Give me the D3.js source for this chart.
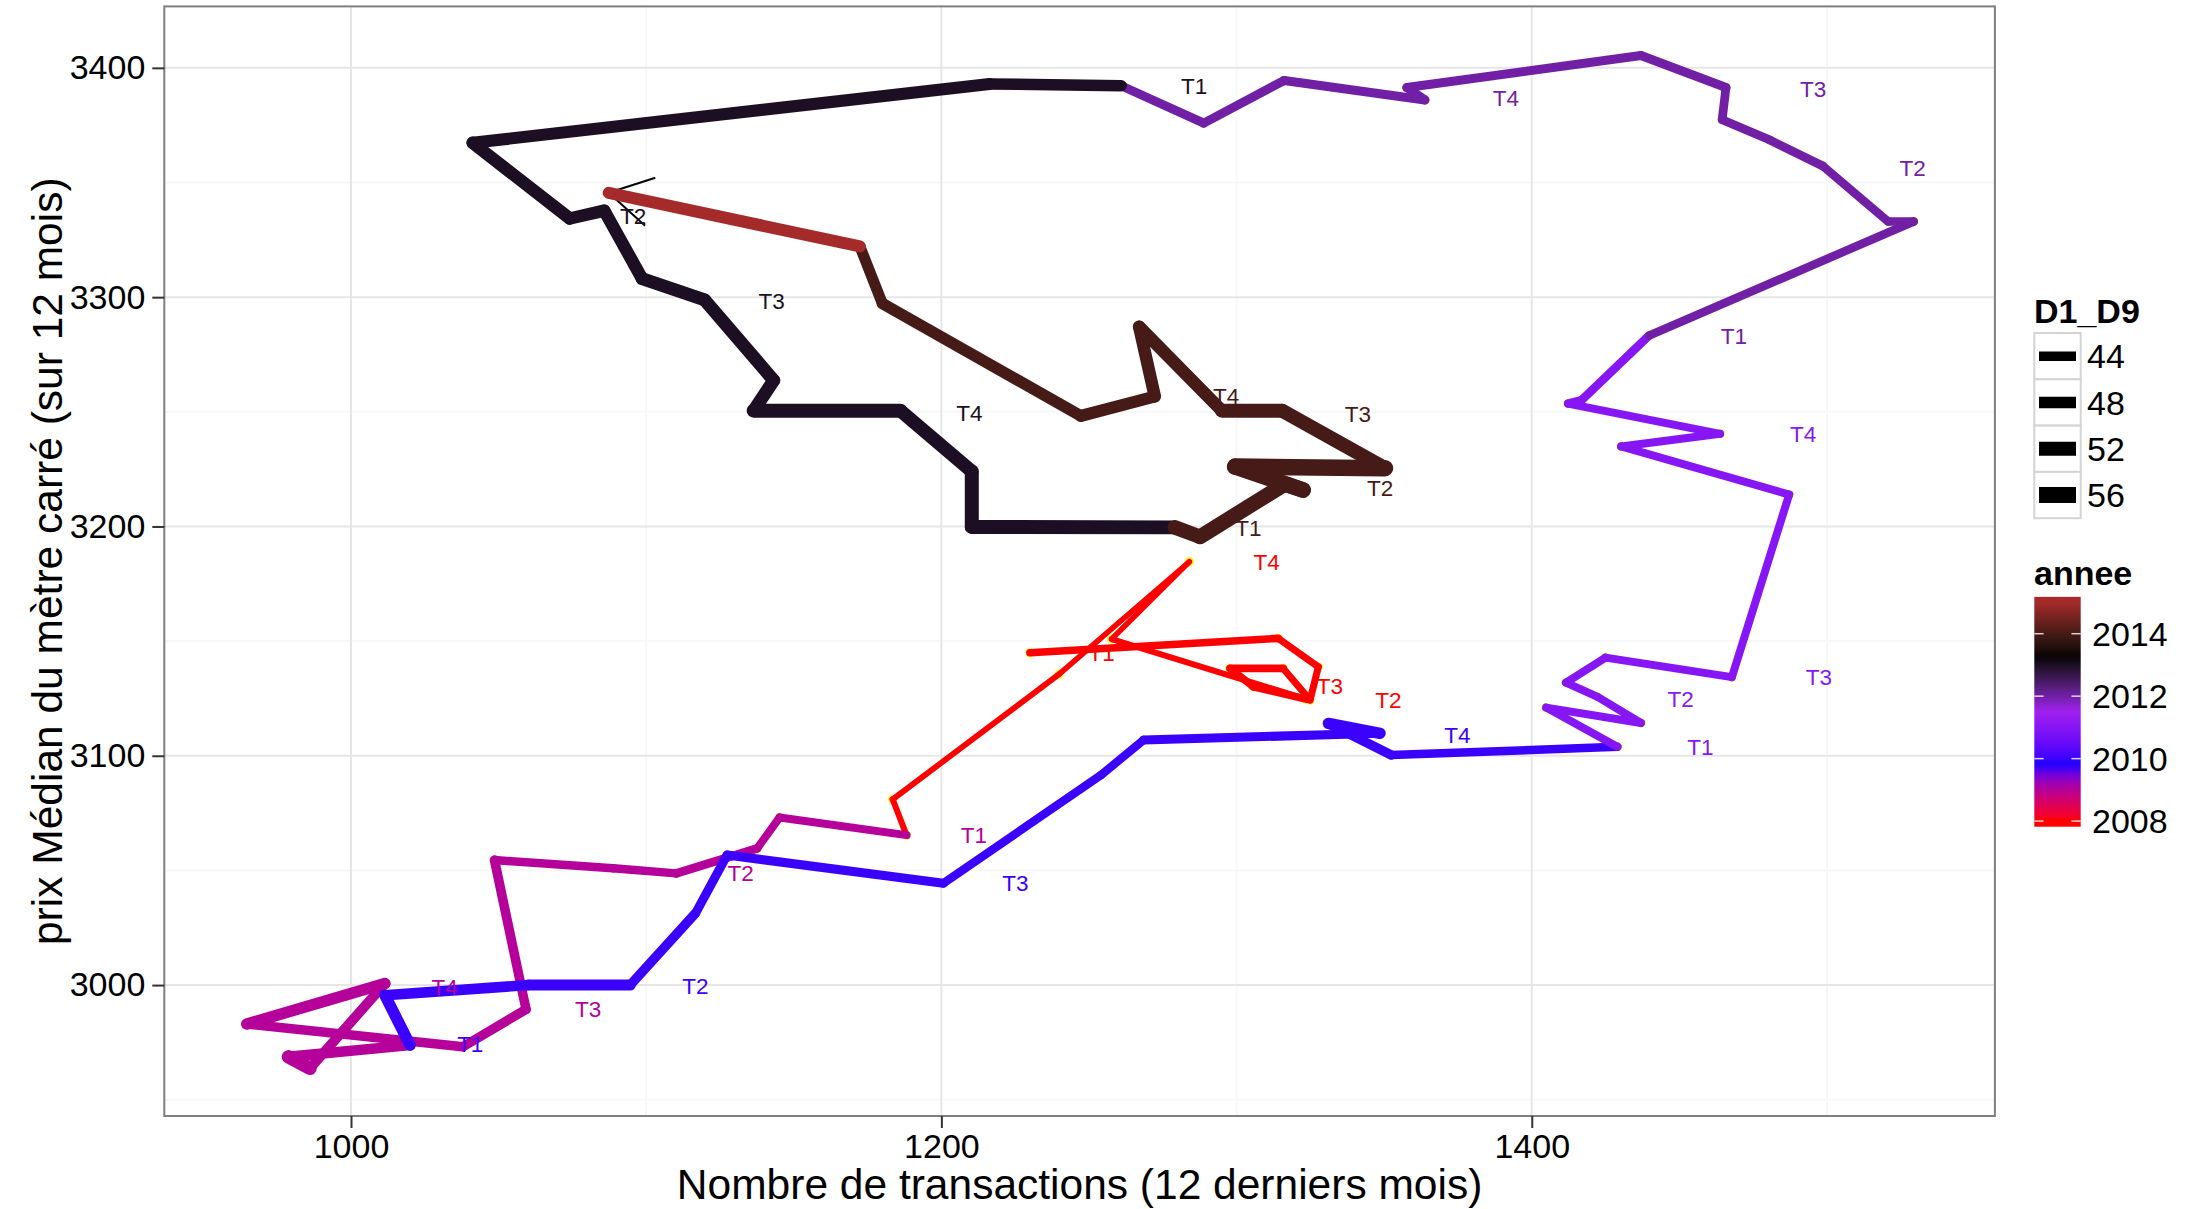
<!DOCTYPE html>
<html><head><meta charset="utf-8">
<script src="https://cdn.jsdelivr.net/npm/d3@7"></script>
<style>body{margin:0;background:#fff}svg{display:block}</style>
</head><body>
<svg id="chart" width="2193" height="1209"></svg>
<script>
// ---------- data (one point per month, chronological) ----------
const annee = [
  2008,2008,2008,2008,2008,2008,2008,2008,2008,2008,2008,2008,
  2009,2009,2009,2009,2009,2009,2009,2009,2009,2009,2009,2009,
  2010,2010,2010,2010,2010,2010,2010,2010,2010,2010,2010,2010,
  2011,2011,2011,2011,2011,2011,2011,2011,2011,2011,2011,2011,
  2012,2012,2012,2012,2012,2012,2012,2012,2012,2012,2012,2012,
  2013,2013,2013,2013,2013,2013,2013,2013,2013,2013,2013,2013,
  2014,2014,2014,2014,2014,2014,2014,2014,2014,2014,2014,2014,
  2015,2015];
const transactions = [
  1230.0,1314.1,1327.7,1324.9,1315.8,1297.8,1305.7,1323.5,1257.7,1284.0,1239.9,1183.5,
  1188.2,1145.2,1137.6,1110.2,1088.8,1048.6,1059.3,1037.9,964.7,1011.5,986.1,978.8,
  1020.0,1011.5,1060.1,1094.6,1116.7,1127.4,1200.7,1254.1,1268.5,1348.6,1331.1,1352.4,
  1429.0,1404.9,1437.0,1422.3,1411.6,1425.0,1467.8,1487.2,1430.3,1463.8,1412.3,1416.9,
  1439.7,1529.4,1520.7,1498.6,1480.7,1464.5,1465.8,1437.0,1357.7,1363.8,1316.1,1288.9,
  1260.9,1216.3,1041.2,1074.1,1085.8,1098.6,1119.8,1143.2,1136.4,1186.1,1210.3,1210.3,
  1279.1,1287.6,1316.4,1322.5,1299.5,1350.3,1315.4,1295.0,1267.0,1272.3,1247.3,1180.0,
  1172.4,1087.3];
const prixMedian = [
  3144.9,3151.2,3138.8,3124.3,3138.1,3138.1,3130.1,3124.7,3150.9,3184.6,3135.6,3081.0,
  3065.4,3073.1,3059.6,3048.7,3050.9,3054.5,2989.4,2973.1,2983.0,3000.7,2963.7,2968.7,
  2973.8,2995.6,3000.0,3000.0,3031.3,3056.7,3044.4,3091.6,3106.9,3109.8,3114.1,3100.3,
  3103.9,3121.0,3114.3,3125.7,3131.9,3142.8,3134.3,3213.9,3234.9,3240.4,3253.6,3255.1,
  3283.2,3333.0,3333.0,3357.2,3368.5,3377.4,3391.4,3405.4,3391.4,3386.0,3394.5,3375.9,
  3392.2,3393.0,3367.3,3334.3,3337.7,3308.1,3298.8,3263.7,3250.5,3250.5,3224.0,3199.8,
  3199.6,3195.5,3218.5,3215.9,3226.1,3225.4,3250.5,3250.5,3287.1,3256.7,3248.2,3297.2,
  3322.1,3345.5];
const d1d9 = [
  40.5,39.5,39.5,39.5,40.5,40.5,40.5,37.7,36.7,36.7,37.3,37.7,
  41.3,41.3,42.2,42.2,42.2,44.1,44.1,44.1,47.7,45.0,51.4,45.9,
  47.7,45.9,46.8,44.1,43.2,43.2,42.2,42.2,43.2,47.7,44.1,42.2,
  41.3,41.3,41.3,41.3,41.3,41.3,41.3,41.3,41.3,41.3,42.2,42.2,
  42.2,42.2,42.2,42.7,42.7,42.7,43.2,43.2,43.2,43.2,43.2,43.2,
  47.7,48.7,49.6,49.6,49.6,50.5,50.5,50.5,52.3,51.4,52.3,52.3,
  53.2,54.2,55.1,56.0,56.9,52.3,52.3,49.6,49.6,48.7,47.7,46.8,
  48.7,48.7];

// quarter labels
const labelAnnee = [2008,2008,2008,2008,2009,2009,2009,2009,2010,2010,2010,2010,
  2011,2011,2011,2011,2012,2012,2012,2012,2013,2013,2013,2013,2014,2014,2014,2014];
const labelTexte = ["T1","T2","T3","T4","T1","T2","T3","T4","T1","T2","T3","T4",
  "T1","T2","T3","T4","T1","T2","T3","T4","T1","T2","T3","T4","T1","T2","T3","T4"];
const labelTransactions = [1254.3,1351.4,1331.6,1310.2, 1211.0,1132.0,1080.3,1031.7,
  1040.4,1116.7,1225.1,1374.8, 1457.1,1450.4,1497.3,1491.9, 1468.5,1529.0,1495.3,1391.2,
  1285.6,1095.6,1142.5,1209.5, 1304.0,1348.6,1341.1,1296.5];
const labelPrix = [3144.7,3124.3,3130.5,3184.6, 3065.4,3048.7,2989.4,2999.4,
  2974.3,2999.7,3044.6,3109.3, 3103.9,3124.9,3134.3,3240.4, 3283.2,3356.4,3391.0,3386.8,
  3392.2,3335.4,3298.5,3249.7, 3199.2,3216.6,3248.9,3257.0];

const xTicks = [1000, 1200, 1400];
const xMinor = [1100, 1300, 1500];
const yTicks = [3000, 3100, 3200, 3300, 3400];
const yMinor = [2950, 3050, 3150, 3250, 3350];
const sizeBreaks = [44, 48, 52, 56];
const colorBreaks = [2008, 2010, 2012, 2014];
const colorStops = [2008, 2009.75, 2011.5, 2013.25, 2015];
const colorValues = ["#FF0000", "#0000FF", "#A020F0", "#000000", "#A52A2A"];

// ---------- layout ----------
const FONT = "'Liberation Sans', Arial, Helvetica, sans-serif";
const P = {left: 164.3, right: 1994.9, top: 6.4, bottom: 1116};
const svg = d3.select("#chart");

const x = d3.scaleLinear().domain([936.75, 1556.9]).range([P.left, P.right]);
const y = d3.scaleLinear().domain([2942.9, 3426.8]).range([P.bottom, P.top]);
const color = d3.scaleLinear().domain(colorStops).range(colorValues)
  .interpolate(d3.interpolateLab).clamp(true);
const width = d3.scaleLinear().domain([36, 58]).range([5.1, 17.1]);

// panel background + grid
svg.append("rect").attr("x", P.left).attr("y", P.top)
  .attr("width", P.right - P.left).attr("height", P.bottom - P.top).attr("fill", "#fff");
const grid = svg.append("g");
xMinor.forEach(v => grid.append("line").attr("x1", x(v)).attr("x2", x(v))
  .attr("y1", P.top).attr("y2", P.bottom).attr("stroke", "#F7F7F7").attr("stroke-width", 2));
yMinor.forEach(v => grid.append("line").attr("y1", y(v)).attr("y2", y(v))
  .attr("x1", P.left).attr("x2", P.right).attr("stroke", "#F7F7F7").attr("stroke-width", 2));
xTicks.forEach(v => grid.append("line").attr("x1", x(v)).attr("x2", x(v))
  .attr("y1", P.top).attr("y2", P.bottom).attr("stroke", "#E6E6E6").attr("stroke-width", 2));
yTicks.forEach(v => grid.append("line").attr("y1", y(v)).attr("y2", y(v))
  .attr("x1", P.left).attr("x2", P.right).attr("stroke", "#E6E6E6").attr("stroke-width", 2));

// data
const pts = transactions.map((t, i) => ({t, p: prixMedian[i], a: annee[i], d: d1d9[i]}));
const plot = svg.append("g");

// yellow points (under the path)
plot.selectAll("circle.pt").data(pts).join("circle")
  .attr("cx", d => x(d.t)).attr("cy", d => y(d.p)).attr("r", 4.6).attr("fill", "#FFFF00");

// arrow head at the end of the path (thin black)
{
  const n = pts.length;
  const tx = x(pts[n-1].t), ty = y(pts[n-1].p);
  const bx = x(pts[n-2].t) - tx, by = y(pts[n-2].p) - ty;
  const L = Math.hypot(bx, by), ux = bx / L, uy = by / L;
  [-Math.PI/6, Math.PI/6].forEach(ang => {
    const c = Math.cos(ang), s = Math.sin(ang);
    const rx = ux * c - uy * s, ry = ux * s + uy * c;
    plot.append("line").attr("x1", tx).attr("y1", ty)
      .attr("x2", tx + rx * 49).attr("y2", ty + ry * 49)
      .attr("stroke", "#000").attr("stroke-width", 2);
  });
}

// path segments: colour/size from the starting point
const segs = d3.pairs(pts);
plot.selectAll("line.seg").data(segs).join("line")
  .attr("x1", d => x(d[0].t)).attr("y1", d => y(d[0].p))
  .attr("x2", d => x(d[1].t)).attr("y2", d => y(d[1].p))
  .attr("stroke", d => color(d[0].a))
  .attr("stroke-width", d => width(d[0].d))
  .attr("stroke-linecap", "round");

// quarter labels
const labs = labelTexte.map((s, i) => ({s, a: labelAnnee[i], t: labelTransactions[i], p: labelPrix[i]}));
plot.selectAll("text.lab").data(labs).join("text")
  .attr("x", d => x(d.t)).attr("y", d => y(d.p)).attr("dy", "0.36em")
  .attr("text-anchor", "middle").attr("font-family", FONT).attr("font-size", 22.5)
  .attr("fill", d => color(d.a)).text(d => d.s);

// panel border
svg.append("rect").attr("x", P.left).attr("y", P.top)
  .attr("width", P.right - P.left).attr("height", P.bottom - P.top)
  .attr("fill", "none").attr("stroke", "#7F7F7F").attr("stroke-width", 2);

// axes
const xAxis = svg.append("g").attr("transform", `translate(0,${P.bottom})`)
  .call(d3.axisBottom(x).tickValues(xTicks).tickSize(12).tickPadding(6).tickFormat(d3.format("d")));
const yAxis = svg.append("g").attr("transform", `translate(${P.left},0)`)
  .call(d3.axisLeft(y).tickValues(yTicks).tickSize(12).tickPadding(7).tickFormat(d3.format("d")));
[xAxis, yAxis].forEach(g => {
  g.select(".domain").remove();
  g.selectAll(".tick line").attr("stroke", "#333").attr("stroke-width", 2);
  g.selectAll(".tick text").attr("font-family", FONT).attr("font-size", 34).attr("fill", "#000");
});

svg.append("text").attr("x", (P.left + P.right) / 2).attr("y", 1199)
  .attr("text-anchor", "middle").attr("font-family", FONT).attr("font-size", 42.5)
  .text("Nombre de transactions (12 derniers mois)");
svg.append("text").attr("transform", `translate(62,${(P.top + P.bottom) / 2}) rotate(-90)`)
  .attr("text-anchor", "middle").attr("font-family", FONT).attr("font-size", 42.5)
  .text("prix Médian du mètre carré (sur 12 mois)");

// ---------- legend: D1_D9 ----------
const lg = svg.append("g");
lg.append("text").attr("x", 2034).attr("y", 323).attr("font-family", FONT)
  .attr("font-size", 34).attr("font-weight", "bold").text("D1_D9");
sizeBreaks.forEach((v, i) => {
  const top = 333 + i * 46.3;
  lg.append("rect").attr("x", 2034.3).attr("y", top).attr("width", 46.4).attr("height", 46.3)
    .attr("fill", "#fff").attr("stroke", "#D4D4D4").attr("stroke-width", 2);
  lg.append("line").attr("x1", 2039).attr("x2", 2076)
    .attr("y1", top + 23.15).attr("y2", top + 23.15)
    .attr("stroke", "#000").attr("stroke-width", width(v));
  lg.append("text").attr("x", 2087).attr("y", top + 23.15).attr("dy", "0.36em")
    .attr("font-family", FONT).attr("font-size", 34).text(v);
});

// ---------- legend: annee colourbar ----------
lg.append("text").attr("x", 2034).attr("y", 585).attr("font-family", FONT)
  .attr("font-size", 34).attr("font-weight", "bold").text("annee");
const cb = d3.scaleLinear().domain([2008, 2014]).range([821.1, 633.7]);
const barTop = cb(2015.18), barBot = cb(2007.82);
const defs = svg.append("defs");
const grad = defs.append("linearGradient").attr("id", "cbar")
  .attr("x1", 0).attr("y1", 1).attr("x2", 0).attr("y2", 0);
d3.range(0, 41).forEach(k => {
  const yr = 2007.82 + k * (2015.18 - 2007.82) / 40;
  grad.append("stop").attr("offset", k / 40).attr("stop-color", color(yr));
});
lg.append("rect").attr("x", 2034.3).attr("y", barTop).attr("width", 46.4)
  .attr("height", barBot - barTop).attr("fill", "url(#cbar)");
colorBreaks.forEach(v => {
  lg.append("line").attr("x1", 2034.3).attr("x2", 2043.6).attr("y1", cb(v)).attr("y2", cb(v))
    .attr("stroke", "#fff").attr("stroke-width", 1.5).attr("opacity", 0.8);
  lg.append("line").attr("x1", 2071.4).attr("x2", 2080.7).attr("y1", cb(v)).attr("y2", cb(v))
    .attr("stroke", "#fff").attr("stroke-width", 1.5).attr("opacity", 0.8);
  lg.append("text").attr("x", 2092).attr("y", cb(v)).attr("dy", "0.36em")
    .attr("font-family", FONT).attr("font-size", 34).text(v);
});
</script>
</body></html>
